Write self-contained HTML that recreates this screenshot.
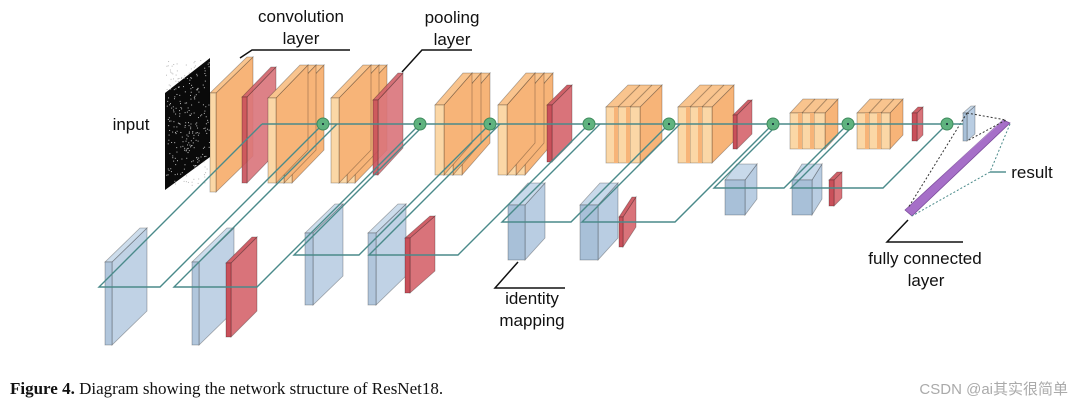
<!DOCTYPE html>
<html><head><meta charset="utf-8"><style>
body{margin:0;background:#fff;width:1074px;height:406px;overflow:hidden;font-family:"Liberation Sans",sans-serif}
svg{position:absolute;left:0;top:0}
</style></head><body>
<svg id="s" width="1074" height="406" xmlns="http://www.w3.org/2000/svg">
<g id="g"></g>
<g font-family="Liberation Sans, sans-serif" font-size="17" fill="#111" text-anchor="middle">
<text x="301" y="22">convolution</text><text x="301" y="44">layer</text>
<text x="452" y="23">pooling</text><text x="452" y="45">layer</text>
<text x="131" y="130">input</text>
<text x="532" y="304">identity</text><text x="532" y="326">mapping</text>
<text x="925" y="264">fully connected</text><text x="926" y="286">layer</text>
<text x="1032" y="178">result</text>
</g>
<g stroke="#111" stroke-width="1.5" fill="none">
<polyline points="350,50 252,50 240,58"/>
<polyline points="472,50 422,50 402,72"/>
<polyline points="565,288 495,288 518,262"/>
<polyline points="963,242 887,242 908,220"/>
</g>
<text x="10" y="394" font-family="Liberation Serif, serif" font-size="17" fill="#111"><tspan font-weight="bold">Figure 4.</tspan> Diagram showing the network structure of ResNet18.</text>
<text x="1068" y="394" text-anchor="end" font-family="Liberation Sans, 'Noto Sans CJK SC', sans-serif" font-size="15" fill="#aaa">CSDN @ai其实很简单</text>
</svg>
<script>
var g=document.getElementById('g'),NS='http://www.w3.org/2000/svg';
function el(n,a){var e=document.createElementNS(NS,n);for(var k in a)e.setAttribute(k,a[k]);g.appendChild(e);return e;}
function poly(p,f,s,o){el('polygon',{points:p.join(' '),fill:f,stroke:s||'none','stroke-width':0.8,'fill-opacity':o||1});}
var C={o:['#fbd7a6','#f7b478','#f9c48e'],r:['#c9505a','#d9737a','#d06068'],b:['#a8c0d8','#b9cde2','#c8d9ea'],k:['#111','#000','#222'],p:['#b58ad0','#a66fc8','#d0b0e8']};
function slab(x,yT,yB,t,dx,dy,c,op){var q=C[c],s=c=='k'?'none':'rgba(0,0,0,0.3)';
 poly([x+t,yT,x+t+dx,yT-dy,x+t+dx,yB-dy,x+t,yB],q[1],s,op);
 poly([x,yT,x+dx,yT-dy,x+t+dx,yT-dy,x+t,yT],q[2],s,op);
 poly([x,yT,x+t,yT,x+t,yB,x,yB],q[0],s,op);}
function multi(x,yT,yB,n,t,dx,dy){for(var i=n-1;i>=0;i--)slab(x+i*t,yT,yB,t,dx,dy,'o');}
function box(x,yT,yB,w,dx,dy,c,stripes){slab(x,yT,yB,w,dx,dy,c);
 if(stripes){for(var i=0;i<stripes.length;i++){var sx=x+stripes[i];el('line',{x1:sx,y1:yT,x2:sx,y2:yB,stroke:'rgba(0,0,0,0.3)'});el('rect',{x:sx-4,y:yT,width:4,height:yB-yT,fill:'#f7b478'});el('line',{x1:sx,y1:yT,x2:sx+dx,y2:yT-dy,stroke:'rgba(0,0,0,0.3)'});}}}
slab(105,262,345,7,35,34,'b',0.9);
slab(192,262,345,7,35,34,'b',0.9);
slab(226,263,337,5,26,26,'r');
slab(305,233,305,8,30,29,'b',0.9);
slab(368,233,305,8,30,29,'b',0.9);
slab(405,238,293,5,25,22,'r');
box(508,205,260,17,20,22,'b');
box(580,205,260,18,20,22,'b');
slab(619,217,247,4,13,20,'r');
box(725,180,215,20,12,16,'b');
box(792,180,215,20,10,16,'b');
slab(829,180,206,5,8,8,'r');
poly([165,93,210,58,210,157,165,190],'#0a0a0a');
for(var i=0;i<260;i++){var yy=60+Math.random()*125,xx=166+Math.random()*43;el('rect',{x:xx,y:yy,width:1,height:1,fill:'#bbb'});}
slab(210,93,192,6,37,36,'o');
slab(242,97,183,5,29,30,'r',0.9);
multi(268,98,183,3,8,32,33);
multi(331,98,183,3,8,32,33);
slab(373,100,175,5,25,27,'r',0.9);
multi(435,105,175,3,9,28,32);
multi(498,105,175,3,9,28,32);
slab(547,105,162,5,20,20,'r');
box(606,107,163,34,22,22,'o',[12,24]);
box(678,107,163,34,22,22,'o',[12,24]);
slab(733,115,149,4,15,15,'r');
box(790,113,149,35,13,14,'o',[12,24]);
box(857,113,149,33,13,14,'o',[12,24]);
slab(912,113,141,5,6,6,'r');
slab(963,113,141,4,8,7,'b');
poly([905,210,1003,120,1010,123,912,216],'#a66fc8','#7a4a9a');
poly([905,210,1003,120,1006,118,908,207],'#d0b0e8');
el('polyline',{points:'967,113 1006,120 967,141',fill:'none',stroke:'#333','stroke-dasharray':'2,2'});
el('polyline',{points:'967,113 908,208',fill:'none',stroke:'#333','stroke-dasharray':'2,2'});
el('polyline',{points:'1010,124 990,172 912,216',fill:'none',stroke:'#4a8a8a','stroke-dasharray':'2,2'});
var L={fill:'none',stroke:'#4a8a8a','stroke-width':1.4};
function line(p){var a=Object.assign({},L);a.points=p;el('polyline',a);}
line('262,124 963,124');
line('990,172 1006,172');
var blocks=[[262,323,287],[337,420,287],[425,490,255],[500,589,255],[600,669,222],[680,773,222],[778,848,188],[855,947,188]];
blocks.forEach(function(b){var d=b[2]-124;
 var x0=b[0]-d,x1=b[1]-d;line(b[0]+','+124+' '+x0+','+b[2]+' '+x1+','+b[2]+' '+b[1]+',124');});
[323,420,490,589,669,773,848,947].forEach(function(x){el('circle',{cx:x,cy:124,r:6,fill:'#5fb37f',stroke:'#3e8a5c'});el('circle',{cx:x,cy:124,r:1,fill:'#123'});});
</script>
</body></html>
